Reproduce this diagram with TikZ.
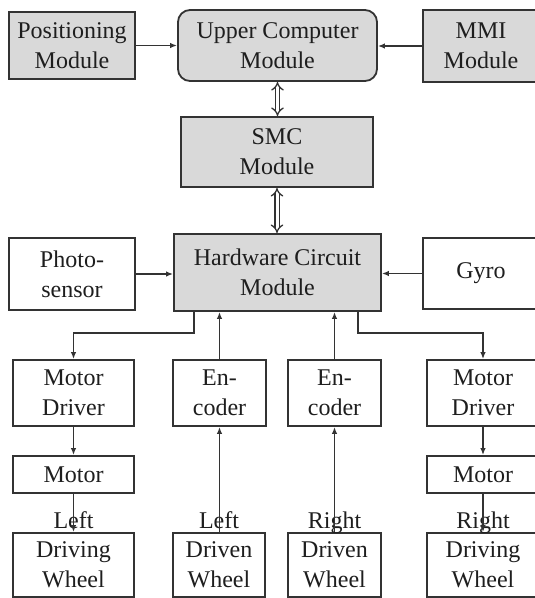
\documentclass[tikz,border=0pt]{standalone}
\usepackage{fontspec}
\setmainfont{Liberation Serif}
\usepackage{xcolor}
\definecolor{boxGray}{HTML}{D9D9D9}
\definecolor{lineDark}{HTML}{333333}
\definecolor{textDark}{HTML}{1E1E1E}
\usepackage{tikz}
\usetikzlibrary{
    arrows.meta,
    positioning,
    calc
}
\tikzset{
    % Base style for all blocks
    block base/.style={
        font=\fontsize{24}{30}\selectfont,
        align=center,
        text=textDark,
        draw=lineDark,
        line width=1.8pt,
        inner sep=0pt,
    },
    % Gray module blocks
    module/.style={
        block base,
        fill=boxGray,
    },
    % Upper computer - rounded gray block
    host/.style={
        module,
        rounded corners=12pt,
    },
    % White hardware units
    unit/.style={
        block base,
        fill=white,
    },
    % Caption standing above a wheel box
    wheel label/.style={
        font=\fontsize{24}{30}\selectfont,
        text=textDark,
        inner sep=0pt,
        text depth=0pt,
    },
    % Plain signal arrow
    arrow/.style={
        -{Latex[length=7pt, width=5.5pt]},
        line width=1.6pt,
        draw=lineDark,
    },
    % Two-way bus link
    link/.style={
        {Implies}-{Implies},
        double=white,
        double distance=3pt,
        line width=1.3pt,
        draw=lineDark,
    },
}

\begin{document}
\begin{tikzpicture}[x=1pt, y=-1pt]
    \clip (0,0) rectangle (535,598);

    \node (pos) [module, minimum width=126pt, minimum height=67pt] at (72,45.5) {Positioning\\Module};
    \node (upper) [host, minimum width=199pt, minimum height=71pt] at (277.5,45.5) {Upper Computer\\Module};
    \node (mmi) [module, minimum width=116pt, minimum height=72pt] at (481,46) {MMI\\Module};
    \node (smc) [module, minimum width=192pt, minimum height=70pt] at (277,152) {SMC\\Module};
    \node (hw) [module, minimum width=207pt, minimum height=77pt] at (277.5,272.5) {Hardware Circuit\\Module};
    \node (photo) [unit, minimum width=126pt, minimum height=72pt] at (72,274) {Photo-\\sensor};
    \node (gyro) [unit, minimum width=116pt, minimum height=71pt] at (481,273.5) {Gyro};

    \node (mdL) [unit, minimum width=121pt, minimum height=66pt] at (73.5,393) {Motor\\Driver};
    \node (encL) [unit, minimum width=93pt, minimum height=66pt] at (219.5,393) {En-\\coder};
    \node (encR) [unit, minimum width=93pt, minimum height=66pt] at (334.5,393) {En-\\coder};
    \node (mdR) [unit, minimum width=112pt, minimum height=66pt] at (483,393) {Motor\\Driver};
    \node (motL) [unit, minimum width=121pt, minimum height=37pt] at (73.5,474.5) {Motor};
    \node (motR) [unit, minimum width=112pt, minimum height=37pt] at (483,474.5) {Motor};

    \node (dwL) [unit, minimum width=121pt, minimum height=64pt, label={[wheel label, label distance=3pt]above:Left}] at (73.5,565) {Driving\\Wheel};
    \node (dnL) [unit, minimum width=92pt, minimum height=64pt, label={[wheel label, label distance=3pt]above:Left}] at (219,565) {Driven\\Wheel};
    \node (dnR) [unit, minimum width=93pt, minimum height=64pt, label={[wheel label, label distance=3pt]above:Right}] at (334.5,565) {Driven\\Wheel};
    \node (dwR) [unit, minimum width=112pt, minimum height=64pt, label={[wheel label, label distance=3pt]above:Right}] at (483,565) {Driving\\Wheel};

    \draw [arrow] (pos.east) -- (pos.east -| upper.west);
    \draw [arrow] (mmi.west) -- (mmi.west -| upper.east);
    \draw [link] (upper.south) -- (upper.south |- smc.north);
    \draw [link] (smc.south) -- (smc.south |- hw.north);
    \draw [arrow] (photo.east) -- (photo.east -| hw.west);
    \draw [arrow] (gyro.west) -- (gyro.west -| hw.east);

    \draw [arrow] ([xshift=-83.5pt]hw.south) -- ++(0,21) -| (mdL.north);
    \draw [arrow] ([xshift=80.5pt]hw.south) -- ++(0,21) -| (mdR.north);
    \draw [arrow] (encL.north) -- (encL.north |- hw.south);
    \draw [arrow] (encR.north) -- (encR.north |- hw.south);

    \draw [arrow] (mdL) -- (motL);
    \draw [arrow] (mdR) -- (motR);
    \draw [arrow] (motL) -- (dwL);
    \draw [arrow] (motR) -- (dwR);
    \draw [arrow] (encL.south |- dnL.north) -- (encL.south);
    \draw [arrow] (encR.south |- dnR.north) -- (encR.south);
\end{tikzpicture}
\end{document}
